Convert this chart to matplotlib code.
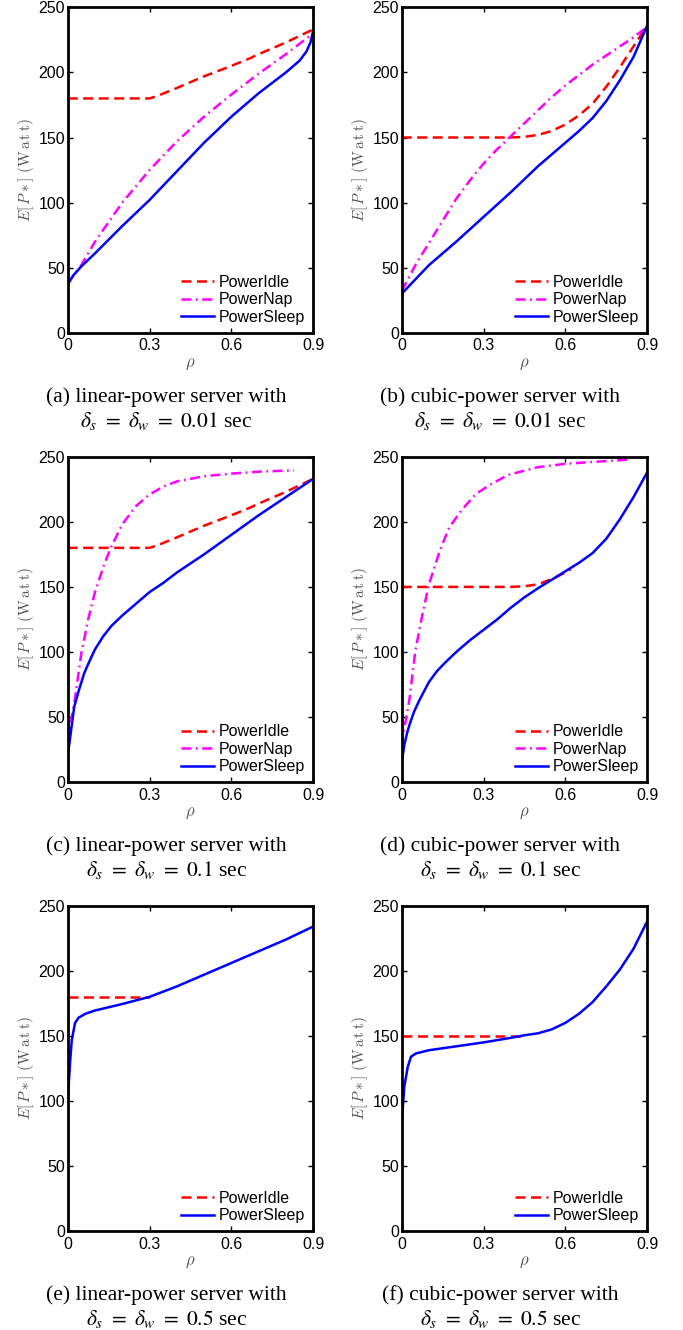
import numpy as np
import matplotlib
matplotlib.use("Agg")
import matplotlib.pyplot as plt

plt.rcParams['font.family'] = ['Liberation Sans', 'DejaVu Sans']
plt.rcParams['mathtext.fontset'] = 'cm'

# ---- data (rho, E[P*]) ----
# (a) linear, 0.01 sec
a_idle_x = [0, 0.3, 0.33, 0.4, 0.5, 0.6, 0.67, 0.7, 0.8, 0.9]
a_idle_y = [180, 180, 182, 188, 197, 205, 211, 214, 223, 233]
a_nap_x = [0, 0.05, 0.1, 0.2, 0.3, 0.4, 0.5, 0.6, 0.7, 0.8, 0.9]
a_nap_y = [38, 52, 70, 100, 125, 147, 166, 183, 199, 214, 230]
a_sleep_x = [0, 0.02, 0.05, 0.1, 0.2, 0.3, 0.4, 0.5, 0.6, 0.7, 0.8, 0.85, 0.875, 0.89, 0.9]
a_sleep_y = [37, 44, 51, 61, 82, 102, 124, 146, 166, 184, 200, 209, 216, 223, 232]

# (b) cubic, 0.01 sec
b_idle_x = [0, 0.4, 0.45, 0.5, 0.55, 0.6, 0.65, 0.7, 0.75, 0.8, 0.85, 0.9]
b_idle_y = [150, 150, 150.5, 152, 155, 160, 167, 176, 189, 204, 220, 236]
b_nap_x = [0, 0.05, 0.1, 0.15, 0.2, 0.25, 0.3, 0.35, 0.4, 0.45, 0.5, 0.55, 0.6, 0.65, 0.7,
           0.75, 0.8, 0.85, 0.9]
b_nap_y = [32, 52, 69, 86, 103, 117, 130, 141, 151, 161, 171, 181, 190, 198, 206,
           213, 220, 227, 235]
b_sleep_x = [0, 0.05, 0.1, 0.15, 0.2, 0.3, 0.4, 0.5, 0.6, 0.65, 0.7, 0.75, 0.8, 0.85, 0.9]
b_sleep_y = [30, 41, 52, 61, 70, 89, 108, 128, 146, 155, 165, 178, 194, 212, 236]

# (c) linear, 0.1 sec
c_idle_x = a_idle_x
c_idle_y = a_idle_y
c_nap_x = [0, 0.01, 0.025, 0.05, 0.075, 0.1, 0.135, 0.16, 0.2, 0.25, 0.3, 0.35, 0.4, 0.5,
           0.6, 0.7, 0.83]
c_nap_y = [30, 45, 62, 99, 125, 146, 168, 181, 198, 212, 221, 227, 231, 235,
           237, 238.5, 239.5]
c_sleep_x = [0, 0.01, 0.024, 0.04, 0.061, 0.08, 0.1, 0.13, 0.16, 0.2, 0.25, 0.3, 0.35, 0.4,
             0.5, 0.6, 0.7, 0.8, 0.9]
c_sleep_y = [20, 36, 58, 70, 84, 93, 102, 112, 120, 128, 137, 146, 153, 161,
             175, 190, 205, 219, 233]

# (d) cubic, 0.1 sec
d_idle_x = [0, 0.4, 0.45, 0.5, 0.55, 0.6, 0.62]
d_idle_y = [150, 150, 150.5, 152, 156, 161, 163.5]
d_nap_x = [0, 0.005, 0.028, 0.05, 0.077, 0.1, 0.14, 0.175, 0.22, 0.27, 0.32, 0.39, 0.5,
           0.6, 0.7, 0.8, 0.84]
d_nap_y = [28, 36, 63, 101, 130, 152, 178, 196, 209, 221, 228, 236, 242,
           244.5, 246, 247.3, 248]
d_sleep_x = [0, 0.01, 0.02, 0.03, 0.045, 0.065, 0.085, 0.1, 0.13, 0.16, 0.2, 0.25, 0.3,
             0.35, 0.4, 0.45, 0.5, 0.55, 0.6, 0.65, 0.7, 0.75, 0.8, 0.85, 0.9]
d_sleep_y = [15.5, 29, 38, 45, 54, 63, 71, 77, 85.5, 92, 100, 109, 117,
             125, 134, 142, 149, 155.5, 162, 168.5, 176, 187, 202, 219, 238]

# (e) linear, 0.5 sec
e_idle_x = [0, 0.3]
e_idle_y = [180, 180]
e_sleep_x = [0, 0.0085, 0.015, 0.027, 0.04, 0.065, 0.1, 0.2, 0.3, 0.4, 0.5, 0.6, 0.7,
             0.8, 0.9]
e_sleep_y = [100, 129, 147, 160, 164, 167, 169.5, 174.5, 180, 188, 197, 206, 215,
             224, 234]

# (f) cubic, 0.5 sec
f_idle_x = [0, 0.45]
f_idle_y = [150, 150]
f_sleep_x = [0, 0.0095, 0.022, 0.034, 0.052, 0.1, 0.2, 0.3, 0.4, 0.45, 0.5, 0.55, 0.6,
             0.65, 0.7, 0.75, 0.8, 0.85, 0.9]
f_sleep_y = [82.6, 111, 126, 134, 136.5, 139, 142, 145, 148.5, 150.5, 152, 155, 160,
             167, 176, 188, 201, 217, 238]

panels = [
    ("(a) linear-power server with", "0.01", (a_idle_x, a_idle_y), (a_nap_x, a_nap_y), (a_sleep_x, a_sleep_y)),
    ("(b) cubic-power server with", "0.01", (b_idle_x, b_idle_y), (b_nap_x, b_nap_y), (b_sleep_x, b_sleep_y)),
    ("(c) linear-power server with", "0.1", (c_idle_x, c_idle_y), (c_nap_x, c_nap_y), (c_sleep_x, c_sleep_y)),
    ("(d) cubic-power server with", "0.1", (d_idle_x, d_idle_y), (d_nap_x, d_nap_y), (d_sleep_x, d_sleep_y)),
    ("(e) linear-power server with", "0.5", (e_idle_x, e_idle_y), None, (e_sleep_x, e_sleep_y)),
    ("(f) cubic-power server with", "0.5", (f_idle_x, f_idle_y), None, (f_sleep_x, f_sleep_y)),
]

W, H = 683, 1330
fig = plt.figure(figsize=(W / 100, H / 100), dpi=100)

lefts = [67.7, 401.7]
tops = [7.3, 456.7, 905.7]
aw, ah = 245.5, 325.5
cap_x = [166.5, 500.5]

for k, (cap, dval, idle, nap, sleep) in enumerate(panels):
    r, c = divmod(k, 2)
    l, t = lefts[c], tops[r]
    ax = fig.add_axes([l / W, 1 - (t + ah) / H, aw / W, ah / H])
    ax.plot(idle[0], idle[1], color='#ff0000', lw=1.8, dashes=(4, 2.2), label='PowerIdle')
    if nap is not None:
        ax.plot(nap[0], nap[1], color='#ff00ff', lw=1.8, dashes=(4, 1.8, 0.7, 1.8), label='PowerNap')
    ax.plot(sleep[0], sleep[1], color='#0000ff', lw=1.8, label='PowerSleep')
    ax.set_xlim(0, 0.9)
    ax.set_ylim(0, 250)
    ax.set_xticks([0, 0.3, 0.6, 0.9])
    ax.set_xticklabels(['0', '0.3', '0.6', '0.9'])
    ax.set_yticks(range(0, 251, 50))
    ax.tick_params(direction='in', top=True, right=True, length=3.5, width=1,
                   labelsize=11.5, colors='black')
    ax.tick_params(axis='x', pad=4)
    ax.tick_params(axis='y', pad=2)
    for s in ax.spines.values():
        s.set_linewidth(2)
    ax.set_xlabel(r'$\rho$', fontsize=12, color='#555555', labelpad=2)
    ax.set_ylabel(r'$E[\,P*]\ (\mathrm{W\,a\,t\,t})$', fontsize=11, color='#555555', labelpad=1.5)
    ax.legend(loc='lower right', frameon=False, fontsize=11.5, handlelength=2.1,
              handletextpad=0.3, labelspacing=0.15, borderaxespad=0.3, borderpad=0.2)

    yb = t + ah
    fig.text(cap_x[c] / W, 1 - (yb + 64) / H, cap, ha='center', va='center',
             family='Liberation Serif', fontsize=15.5)
    fig.text(cap_x[c] / W, 1 - (yb + 88) / H,
             r'$\delta_s\ =\ \delta_w\ =\ %s$ sec' % dval, ha='center', va='center',
             family='Liberation Serif', fontsize=15.5, math_fontfamily='stix')

fig.savefig('out.png', dpi=100)
